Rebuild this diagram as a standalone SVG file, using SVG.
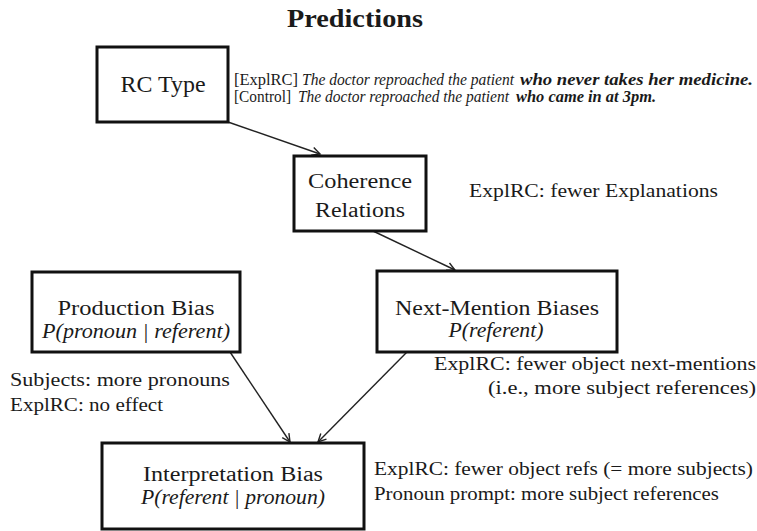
<svg xmlns="http://www.w3.org/2000/svg" width="757" height="531" viewBox="0 0 757 531">
<defs>
<style>
.box{fill:#fff;stroke:#111;stroke-width:3}
.t{font-family:"Liberation Serif","Times New Roman",serif;fill:#1a1a1a}
.n{font-size:20px}
.s{font-size:19px}
.sm{font-size:16px}
.i{font-style:italic}
.b{font-weight:bold}
.c{text-anchor:middle}
.conn{stroke:#222;stroke-width:1.4;fill:none;marker-end:url(#arr)}
</style>
<marker id="arr" markerUnits="userSpaceOnUse" markerWidth="12" markerHeight="12" viewBox="0 0 12 12" refX="10" refY="6" orient="auto">
<path d="M2,2 L10,6 L2,10" fill="none" stroke="#222" stroke-width="1.4"/>
</marker>
</defs>
<rect width="757" height="531" fill="#fff"/>
<text class="t b" x="355" y="27" font-size="26" text-anchor="middle" textLength="136" lengthAdjust="spacingAndGlyphs">Predictions</text>

<g id="connectors">
<line class="conn" x1="228" y1="122" x2="320" y2="154"/>
<line class="conn" x1="373" y1="231" x2="455" y2="270"/>
<line class="conn" x1="230" y1="352" x2="290" y2="442"/>
<line class="conn" x1="407" y1="352" x2="318" y2="442"/>
</g>

<g id="rc-type">
<rect class="box" x="97" y="47" width="131" height="75"/>
<text class="t c" x="163" y="92" font-size="24" textLength="85" lengthAdjust="spacingAndGlyphs">RC Type</text>
</g>
<g id="rc-examples">
<text class="t sm" x="234" y="85" textLength="64" lengthAdjust="spacingAndGlyphs">[ExplRC]</text>
<text class="t sm i" x="302" y="85" textLength="212" lengthAdjust="spacingAndGlyphs">The doctor reproached the patient</text>
<text class="t sm i b" x="520" y="85" textLength="233" lengthAdjust="spacingAndGlyphs">who never takes her medicine.</text>
<text class="t sm" x="234" y="102" textLength="57" lengthAdjust="spacingAndGlyphs">[Control]</text>
<text class="t sm i" x="298" y="102" textLength="211" lengthAdjust="spacingAndGlyphs">The doctor reproached the patient</text>
<text class="t sm i b" x="516" y="102" textLength="140" lengthAdjust="spacingAndGlyphs">who came in at 3pm.</text>
</g>

<g id="coherence">
<rect class="box" x="294" y="156" width="132" height="75"/>
<text class="t n c" x="360" y="188" font-size="22" textLength="104" lengthAdjust="spacingAndGlyphs">Coherence</text>
<text class="t n c" x="360" y="217" font-size="22" textLength="90" lengthAdjust="spacingAndGlyphs">Relations</text>
</g>
<text class="t s" x="469" y="197" textLength="249" lengthAdjust="spacingAndGlyphs">ExplRC: fewer Explanations</text>

<g id="production">
<rect class="box" x="32" y="272" width="208" height="80"/>
<text class="t n c" x="136" y="315" textLength="157" lengthAdjust="spacingAndGlyphs">Production Bias</text>
<text class="t n c i" x="136" y="338" textLength="188" lengthAdjust="spacingAndGlyphs">P(pronoun | referent)</text>
</g>
<text class="t s" x="10" y="386" textLength="220" lengthAdjust="spacingAndGlyphs">Subjects: more pronouns</text>
<text class="t s" x="10" y="411" textLength="153" lengthAdjust="spacingAndGlyphs">ExplRC: no effect</text>

<g id="next-mention">
<rect class="box" x="377" y="271" width="240" height="81"/>
<text class="t n c" x="497" y="315" textLength="204" lengthAdjust="spacingAndGlyphs">Next-Mention Biases</text>
<text class="t n c i" x="496" y="337" textLength="95" lengthAdjust="spacingAndGlyphs">P(referent)</text>
</g>
<text class="t s" x="434" y="370" textLength="322" lengthAdjust="spacingAndGlyphs">ExplRC: fewer object next-mentions</text>
<text class="t s" x="488" y="394" textLength="268" lengthAdjust="spacingAndGlyphs">(i.e., more subject references)</text>

<g id="interpretation">
<rect class="box" x="102" y="443" width="262" height="86"/>
<text class="t n c" x="233" y="481" textLength="180" lengthAdjust="spacingAndGlyphs">Interpretation Bias</text>
<text class="t n c i" x="233" y="504" textLength="184" lengthAdjust="spacingAndGlyphs">P(referent | pronoun)</text>
</g>
<text class="t s" x="374" y="475" textLength="379" lengthAdjust="spacingAndGlyphs">ExplRC: fewer object refs (= more subjects)</text>
<text class="t s" x="374" y="500" textLength="345" lengthAdjust="spacingAndGlyphs">Pronoun prompt: more subject references</text>
</svg>
